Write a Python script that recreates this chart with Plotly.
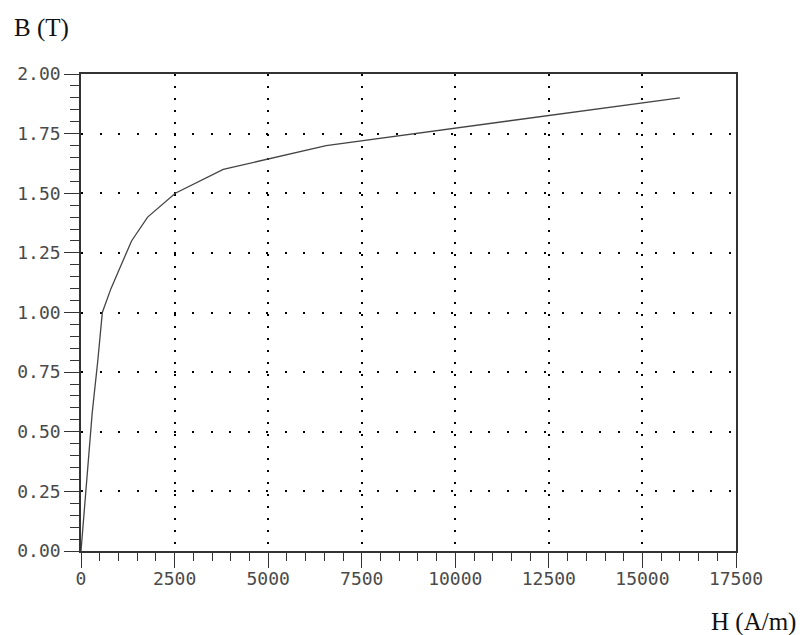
import plotly.graph_objects as go

# Magnetisation (B-H) curve of the core steel
field_h = [0, 300, 450, 570, 800, 1350, 1780, 2520, 3800, 6550, 16000]   # A/m
flux_b = [0.0, 0.58, 0.80, 1.00, 1.10, 1.30, 1.40, 1.50, 1.60, 1.70, 1.90]  # T

x_ticks = [0, 2500, 5000, 7500, 10000, 12500, 15000, 17500]
y_ticks = [0.0, 0.25, 0.50, 0.75, 1.00, 1.25, 1.50, 1.75, 2.00]

W, H = 802, 635
L, R, T, B = 81, 66, 74, 84
pw, ph = W - L - R, H - T - B

tick_font = dict(family="DejaVu Sans Mono", size=18, color="#4a4a4a")
title_font = dict(family="Liberation Serif", size=25, color="#111")

fig = go.Figure()
fig.add_trace(go.Scatter(
    x=field_h, y=flux_b, mode="lines",
    line=dict(color="#444", width=1.3),
    hoverinfo="skip", showlegend=False,
))

fig.update_xaxes(
    range=[0, 17500], tickvals=x_ticks, ticktext=[str(v) for v in x_ticks],
    showline=True, linecolor="#333", linewidth=1.5, mirror=True,
    ticks="outside", ticklen=15, tickwidth=1.2, tickcolor="#333",
    minor=dict(dtick=500, ticks="outside", ticklen=8, tickwidth=1.2,
               tickcolor="#333", showgrid=False),
    showgrid=True, gridcolor="black", gridwidth=2, griddash="2px,10px",
    zeroline=False, tickfont=tick_font, ticklabelstandoff=-4,
)
fig.update_yaxes(
    range=[0, 2], tickvals=y_ticks, ticktext=[f"{v:.2f}" for v in y_ticks],
    showline=True, linecolor="#333", linewidth=1.5, mirror=True,
    ticks="outside", ticklen=15, tickwidth=1.2, tickcolor="#333",
    minor=dict(dtick=0.05, ticks="outside", ticklen=9, tickwidth=1.2,
               tickcolor="#333", showgrid=False),
    showgrid=True, gridcolor="black", gridwidth=2, griddash="2px,16.5px",
    zeroline=False, tickfont=tick_font,
)

# axis titles placed outside the frame
fig.add_annotation(text="B (T)", xref="paper", yref="paper",
                   x=(12 - L) / pw, y=(H - B - 28) / ph,
                   xanchor="left", yanchor="middle", showarrow=False,
                   font=title_font)
fig.add_annotation(text="H (A/m)", xref="paper", yref="paper",
                   x=(709 - L) / pw, y=(H - B - 622) / ph,
                   xanchor="left", yanchor="middle", showarrow=False,
                   font=title_font)

fig.update_layout(
    width=W, height=H,
    margin=dict(l=L, r=R, t=T, b=B),
    paper_bgcolor="white", plot_bgcolor="white",
)

fig.write_html("out.html")
